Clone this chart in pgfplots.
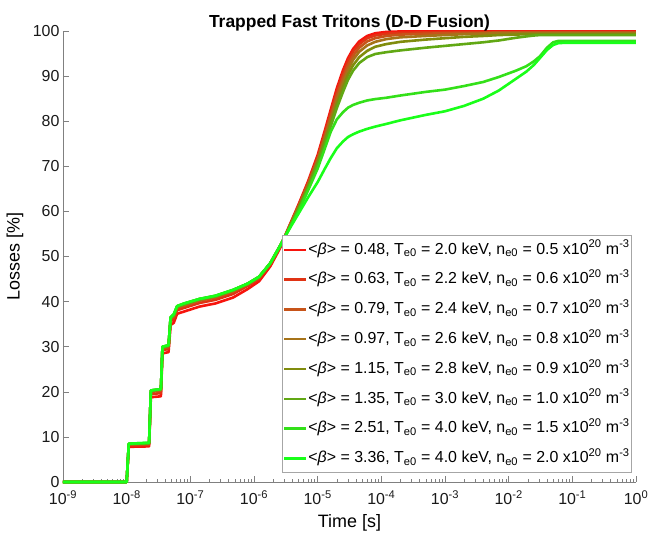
\documentclass[border=0pt]{standalone}
\usepackage{fontspec}
\setmainfont{Liberation Sans}
\usepackage{pgfplots}
\usepackage{pgfplotstable}
\pgfplotsset{compat=1.18}

\definecolor{c1}{rgb}{0.97,0.08,0.05}
\definecolor{c2}{rgb}{0.88,0.20,0.08}
\definecolor{c3}{rgb}{0.78,0.33,0.10}
\definecolor{c4}{rgb}{0.65,0.45,0.10}
\definecolor{c5}{rgb}{0.50,0.55,0.05}
\definecolor{c6}{rgb}{0.38,0.66,0.08}
\definecolor{c7}{rgb}{0.20,0.88,0.10}
\definecolor{c8}{rgb}{0.10,1.00,0.10}

\pgfplotstableread{
t        s1    s2    s3    s4    s5    s6    s7    s8
1e-9     0     0     0     0     0     0     0     0
1e-8     0     0     0     0     0     0     0     0
1.08e-8  7.8   8.1   8.3   8.4   8.4   8.5   8.5   8.5
2.25e-8  7.9   8.2   8.4   8.5   8.6   8.6   8.7   8.7
2.4e-8   18.8  19.5  20.0  20.2  20.3  20.3  20.3  20.3
3.45e-8  19.0  19.7  20.2  20.4  20.5  20.6  20.6  20.6
3.65e-8  28.5  29.2  29.6  29.8  29.9  30.0  30.0  30.0
4.55e-8  28.8  29.5  29.9  30.1  30.2  30.3  30.3  30.3
4.9e-8   34.8  35.6  36.1  36.3  36.4  36.5  36.5  36.5
5.5e-8   35.3  36.1  36.6  36.9  37.0  37.1  37.2  37.2
6.2e-8   37.3  38.1  38.6  38.8  38.9  39.0  39.0  39.0
8e-8     37.8  38.6  39.1  39.3  39.4  39.5  39.6  39.6
1.4e-7   38.9  39.7  40.2  40.4  40.5  40.6  40.6  40.6
2.5e-7   39.6  40.4  40.9  41.1  41.2  41.3  41.3  41.3
4.7e-7   40.9  41.7  42.2  42.4  42.5  42.6  42.6  42.6
8e-7     42.8  43.5  43.8  43.9  44.0  44.0  44.0  44.0
1.2e-6   44.5  45.0  45.3  45.4  45.5  45.5  45.5  45.5
1.8e-6   47.8  48.2  48.4  48.5  48.5  48.5  48.5  48.5
2.6e-6   52.0  52.3  52.4  52.5  52.5  52.5  52.5  52.5
3.3e-6   55.6  55.5  55.5  55.4  55.3  55.3  55.2  55.2
5e-6     61.5  61.3  61.1  60.9  60.7  60.5  60.0  59.5
7e-6     66.5  66.2  65.9  65.6  65.3  65.0  64.5  63.0
1e-5     72.5  72.0  71.6  71.2  70.8  70.5  69.5  66.5
1.3e-5   78.0  77.4  76.8  76.2  75.6  75.0  74.0  69.5
1.6e-5   82.5  81.8  81.1  80.3  79.5  78.8  77.6  71.8
2e-5     87.3  86.5  85.7  84.7  83.8  82.9  80.4  74.0
2.5e-5   91.3  90.5  89.6  88.6  87.5  86.5  82.0  75.5
3e-5     94.0  93.3  92.4  91.4  90.3  89.2  83.0  76.5
3.6e-5   96.0  95.4  94.5  93.6  92.4  91.2  83.6  77.1
4.5e-5   97.7  97.1  96.3  95.4  94.2  92.9  84.1  77.7
6e-5     98.9  98.4  97.7  96.8  95.6  94.2  84.6  78.3
8e-5     99.5  99.0  98.4  97.6  96.5  94.9  84.9  78.8
1.2e-4   99.8  99.4  98.9  98.2  97.1  95.3  85.2  79.4
2e-4     99.9  99.6  99.2  98.6  97.6  95.7  85.7  80.2
5e-4     99.9  99.7  99.4  98.9  98.1  96.3  86.5  81.4
1e-3     99.9  99.8  99.5  99.1  98.4  96.7  87.0  82.2
2e-3     99.9  99.8  99.6  99.3  98.7  97.1  87.8  83.4
4e-3     99.9  99.8  99.6  99.4  98.9  97.5  88.7  85.0
7e-3     99.9  99.8  99.7  99.5  99.1  97.9  89.8  86.8
1.3e-2   99.9  99.8  99.7  99.5  99.2  98.5  91.2  89.4
1.9e-2   99.9  99.8  99.7  99.5  99.3  98.8  92.2  91.0
2.5e-2   99.9  99.8  99.7  99.5  99.3  99.0  93.3  92.5
3.1e-2   99.9  99.8  99.7  99.5  99.3  99.1  94.4  94.0
4e-2     99.9  99.8  99.7  99.5  99.3  99.1  96.3  95.8
5e-2     99.9  99.8  99.7  99.5  99.3  99.1  97.5  96.9
6e-2     99.9  99.8  99.7  99.5  99.3  99.1  97.8  97.3
8e-2     99.9  99.8  99.7  99.5  99.3  99.1  97.8  97.4
1        99.9  99.8  99.7  99.5  99.3  99.1  97.8  97.4
}\losses

\begin{document}
\begin{tikzpicture}
\path[use as bounding box] (-63bp,-57bp) rectangle (585bp,482bp);
\begin{axis}[
  at={(0,0)}, anchor=south west,
  width=573bp, height=451bp, scale only axis,
  xmode=log, xmin=1e-9, xmax=1, ymin=0, ymax=100,
  xtick={1e-9,1e-8,1e-7,1e-6,1e-5,1e-4,1e-3,1e-2,1e-1,1},
  xticklabels={10\textsuperscript{-9},10\textsuperscript{-8},10\textsuperscript{-7},10\textsuperscript{-6},10\textsuperscript{-5},10\textsuperscript{-4},10\textsuperscript{-3},10\textsuperscript{-2},10\textsuperscript{-1},10\textsuperscript{0}},
  ytick={0,10,...,100},
  /pgf/number format/assume math mode=true,
  axis x line*=bottom, axis y line*=left,
  axis line style={-, black!50, line width=0.6bp},
  tick align=inside, major tick length=6bp, minor tick length=3bp,
  tick style={black!50, line width=0.5bp},
  ticklabel style={font=\fontsize{16}{18}\selectfont, text=black!90},
  xticklabel style={yshift=-5bp},
  xlabel={Time [s]}, ylabel={Losses [\%]},
  every axis x label/.style={at={(axis description cs:0.5,0)}, yshift=-41bp, anchor=center, font=\fontsize{18}{20}\selectfont},
  every axis y label/.style={at={(axis description cs:0,0.5)}, xshift=-48bp, rotate=90, anchor=center, font=\fontsize{18}{20}\selectfont},
  title={Trapped Fast Tritons (D-D Fusion)},
  every axis title/.style={at={(axis description cs:0.5,1)}, yshift=8bp, anchor=center, font=\bfseries\fontsize{17.5}{20}\selectfont},
  clip=false,
  legend cell align=left,
  legend style={at={(rel axis cs:0.993,0.02)}, anchor=south east,
    draw=black!35, fill=white, line width=0.6bp,
    font=\fontsize{16}{18}\selectfont,
    inner xsep=1bp, inner ysep=4bp, row sep=9.3bp,
    nodes={inner sep=1bp, text height=13.5bp, text depth=5bp},
    /tikz/every odd column/.style={column sep=0bp}},
  legend image code/.code={\draw[#1, line width=2.5bp] (0bp,0bp) -- (22bp,0bp);},
  every axis plot/.append style={line width=2.6bp, line join=round},
]
\addplot[c1] table[x=t,y=s1]{\losses};
\addlegendentry{<\textit{β}> = 0.48, T\textsubscript{e0} = 2.0 keV, n\textsubscript{e0} = 0.5 x10\textsuperscript{20} m\textsuperscript{-3}}
\addplot[c2] table[x=t,y=s2]{\losses};
\addlegendentry{<\textit{β}> = 0.63, T\textsubscript{e0} = 2.2 keV, n\textsubscript{e0} = 0.6 x10\textsuperscript{20} m\textsuperscript{-3}}
\addplot[c3] table[x=t,y=s3]{\losses};
\addlegendentry{<\textit{β}> = 0.79, T\textsubscript{e0} = 2.4 keV, n\textsubscript{e0} = 0.7 x10\textsuperscript{20} m\textsuperscript{-3}}
\addplot[c4] table[x=t,y=s4]{\losses};
\addlegendentry{<\textit{β}> = 0.97, T\textsubscript{e0} = 2.6 keV, n\textsubscript{e0} = 0.8 x10\textsuperscript{20} m\textsuperscript{-3}}
\addplot[c5] table[x=t,y=s5]{\losses};
\addlegendentry{<\textit{β}> = 1.15, T\textsubscript{e0} = 2.8 keV, n\textsubscript{e0} = 0.9 x10\textsuperscript{20} m\textsuperscript{-3}}
\addplot[c6] table[x=t,y=s6]{\losses};
\addlegendentry{<\textit{β}> = 1.35, T\textsubscript{e0} = 3.0 keV, n\textsubscript{e0} = 1.0 x10\textsuperscript{20} m\textsuperscript{-3}}
\addplot[c7] table[x=t,y=s7]{\losses};
\addlegendentry{<\textit{β}> = 2.51, T\textsubscript{e0} = 4.0 keV, n\textsubscript{e0} = 1.5 x10\textsuperscript{20} m\textsuperscript{-3}}
\addplot[c8] table[x=t,y=s8]{\losses};
\addlegendentry{<\textit{β}> = 3.36, T\textsubscript{e0} = 4.0 keV, n\textsubscript{e0} = 2.0 x10\textsuperscript{20} m\textsuperscript{-3}}
\end{axis}
\end{tikzpicture}
\end{document}
